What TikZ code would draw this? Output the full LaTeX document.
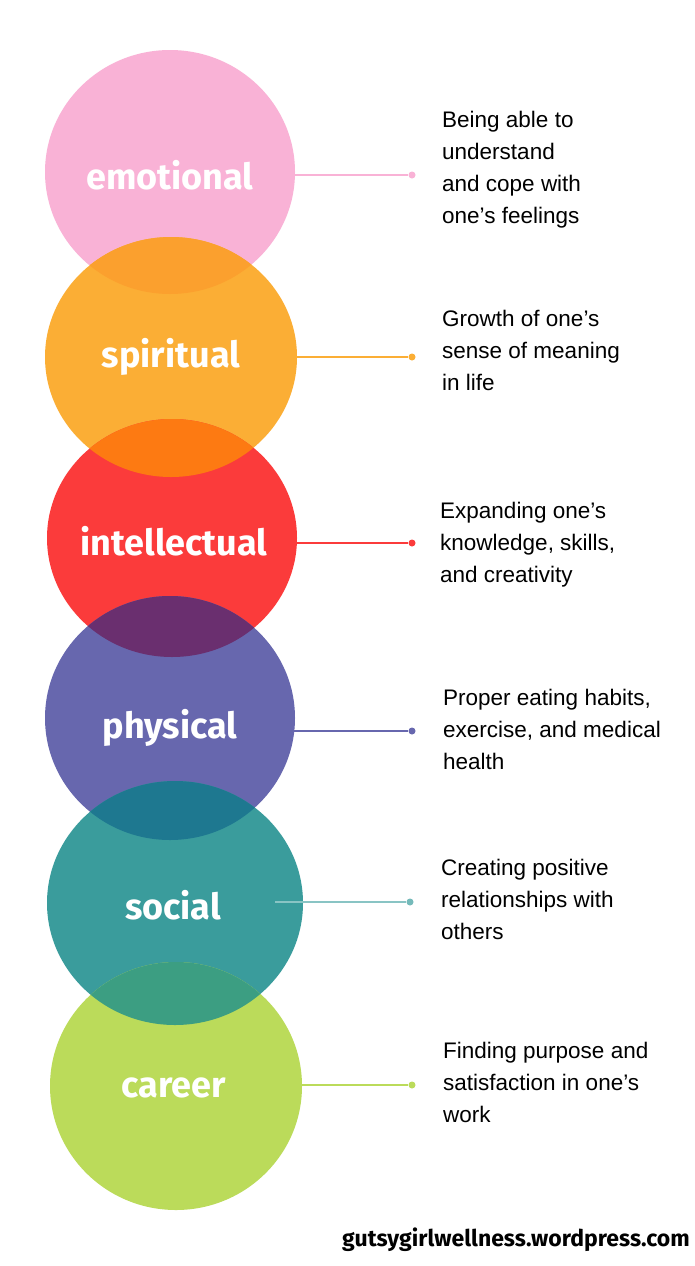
\documentclass[tikz,border=0pt]{standalone}
\usepackage{fontspec}
\setmainfont{Liberation Sans}
\newfontfamily\titlefont{Fira Sans}
\definecolor{cpink}{HTML}{F9B2D6}
\definecolor{corange}{HTML}{FBAE35}
\definecolor{cred}{HTML}{FB3B3B}
\definecolor{cpurple}{HTML}{6767AE}
\definecolor{cteal}{HTML}{3A9C9C}
\definecolor{clime}{HTML}{BBDB5A}
\definecolor{ov1}{HTML}{FBA02E}
\definecolor{ov2}{HTML}{FD7A12}
\definecolor{ov3}{HTML}{6A2F6F}
\definecolor{ov4}{HTML}{1E7890}
\definecolor{ov5}{HTML}{3C9E82}
\begin{document}
\begin{tikzpicture}[x=1pt,y=-1pt,
  label/.style={text=white,font=\titlefont\bfseries\fontsize{36}{38}\selectfont},
  desc/.style={anchor=north west,align=left,font=\fontsize{22.5}{32}\selectfont,inner sep=0pt},
  conn/.style={line width=1.2pt},
  dotc/.style={circle,inner sep=0pt,minimum size=7pt}]
\fill[white] (0,0) rectangle (695,1266);
\useasboundingbox (0,0) rectangle (695,1266);
\def\ca{(170,172) ellipse (125 and 122)}
\def\cb{(171,357) ellipse (126 and 120)}
\def\cc{(172,538) ellipse (125 and 119)}
\def\cd{(170,718) ellipse (125 and 122)}
\def\ce{(175,903) ellipse (128 and 122)}
\def\cf{(176,1086) ellipse (126 and 124)}
\fill[cpink] \ca; \fill[corange] \cb; \fill[cred] \cc;
\fill[cpurple] \cd; \fill[cteal] \ce; \fill[clime] \cf;
\begin{scope}\clip \ca; \fill[ov1] \cb; \end{scope}
\begin{scope}\clip \cb; \fill[ov2] \cc; \end{scope}
\begin{scope}\clip \cc; \fill[ov3] \cd; \end{scope}
\begin{scope}\clip \cd; \fill[ov4] \ce; \end{scope}
\begin{scope}\clip \ce; \fill[ov5] \cf; \end{scope}
\node[label] (l1) at (170,175) {emotional};
\node[label] (l2) at (171,357) {spiritual};
\node[label] (l3) at (174,541) {intellectual};
\node[label] (l4) at (170,728) {physical};
\node[label] (l5) at (173,905) {social};
\node[label] (l6) at (174,1088) {career};
\node[dotc,fill=cpink] (d1) at (412,175) {};
\node[dotc,fill=corange] (d2) at (412,357) {};
\node[dotc,fill=cred] (d3) at (412,543) {};
\node[dotc,fill=cpurple] (d4) at (412,731) {};
\node[dotc,fill=cteal!70] (d5) at (410,902) {};
\node[dotc,fill=clime] (d6) at (412,1085) {};
\coordinate (s1) at (290,175); \coordinate (s2) at (285,357);
\coordinate (s3) at (297,543); \coordinate (s4) at (282,731);
\coordinate (s5) at (275,902); \coordinate (s6) at (285,1085);
\draw[conn,cpink] (s1) -- (d1);
\draw[conn,corange] (s2) -- (d2);
\draw[conn,cred] (s3) -- (d3);
\draw[conn,cpurple] (s4) -- (d4);
\draw[conn,cteal!60] (s5) -- (d5);
\draw[conn,clime] (s6) -- (d6);
\node[desc] (t1) at (442,111) {Being able to\\understand\\and cope with\\one's feelings};
\node[desc] (t2) at (442,310) {Growth of one's\\sense of meaning\\in life};
\node[desc] (t3) at (440,502) {Expanding one's\\knowledge, skills,\\and creativity};
\node[desc] (t4) at (443,689) {Proper eating habits,\\exercise, and medical\\health};
\node[desc] (t5) at (441,859) {Creating positive\\relationships with\\others};
\node[desc] (t6) at (443,1042) {Finding purpose and\\satisfaction in one's\\work};
\node[anchor=east,font=\titlefont\bfseries\fontsize{23}{25}\selectfont,inner sep=0pt] (w) at (690,1240) {gutsygirlwellness.wordpress.com};
\end{tikzpicture}
\end{document}
